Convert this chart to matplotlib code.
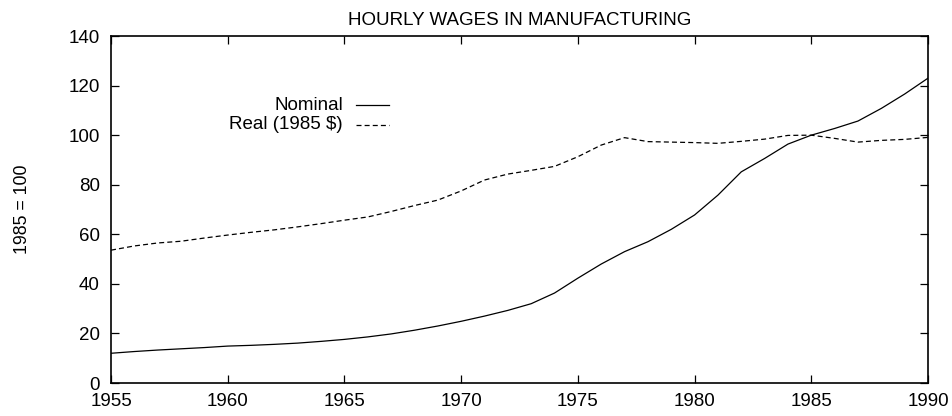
import matplotlib
matplotlib.use("Agg")
import matplotlib.pyplot as plt

years = list(range(1955, 1991))
nominal = [12.0, 12.7, 13.3, 13.8, 14.3, 14.9, 15.2, 15.6, 16.1, 16.8,
           17.6, 18.6, 19.8, 21.3, 23.0, 24.9, 27.0, 29.3, 32.0, 36.3,
           42.3, 48.0, 53.0, 57.0, 62.0, 67.8, 75.8, 85.2, 90.6, 96.4,
           100.0, 102.7, 105.7, 110.8, 116.6, 123.0]
real = [53.6, 55.3, 56.5, 57.2, 58.5, 59.7, 60.8, 61.8, 63.0, 64.3,
        65.7, 67.0, 69.2, 71.6, 73.8, 77.5, 81.9, 84.3, 85.8, 87.4,
        91.3, 96.0, 99.0, 97.4, 97.2, 97.0, 96.7, 97.5, 98.4, 99.9,
        100.0, 98.7, 97.2, 97.9, 98.3, 99.1]
xticks = [1955, 1960, 1965, 1970, 1975, 1980, 1985, 1990]
yticks = [0, 20, 40, 60, 80, 100, 120, 140]

plt.rcParams['font.family'] = ['Liberation Sans', 'DejaVu Sans']
fs = 13.5

fig = plt.figure(figsize=(9.52, 4.16), dpi=100)
ax = fig.add_axes([0.1166, 0.0793, 0.8582, 0.8341])

dash = (0, (4, 2.5))
ax.plot(years, nominal, color='black', lw=0.9)
ax.plot(years, real, color='black', lw=0.9, linestyle=dash)

ax.set_xlim(1955, 1990)
ax.set_ylim(0, 140)
ax.set_xticks(xticks)
ax.set_yticks(yticks)
ax.tick_params(direction='in', length=5.5, width=0.9, top=True, right=True,
               labelsize=fs)
ax.tick_params(axis='y', pad=8)
ax.tick_params(axis='x', pad=7)
for s in ax.spines.values():
    s.set_linewidth(1.2)

ax.set_title('HOURLY WAGES IN MANUFACTURING', fontsize=fs, pad=8)
ax.set_ylabel('1985 = 100', fontsize=12.8)
ax.yaxis.set_label_coords(-0.0985, 0.5)

# key, right-aligned text with sample line after it
ax.text(0.284, 0.801, 'Nominal', transform=ax.transAxes, ha='right',
        va='center', fontsize=fs)
ax.plot([0.300, 0.340], [0.801, 0.801], transform=ax.transAxes,
        color='black', lw=0.9)
ax.text(0.284, 0.744, 'Real (1985 $)', transform=ax.transAxes, ha='right',
        va='center', fontsize=fs)
ax.plot([0.300, 0.340], [0.744, 0.744], transform=ax.transAxes,
        color='black', lw=0.9, linestyle=dash)

fig.savefig('out.png', dpi=100)
